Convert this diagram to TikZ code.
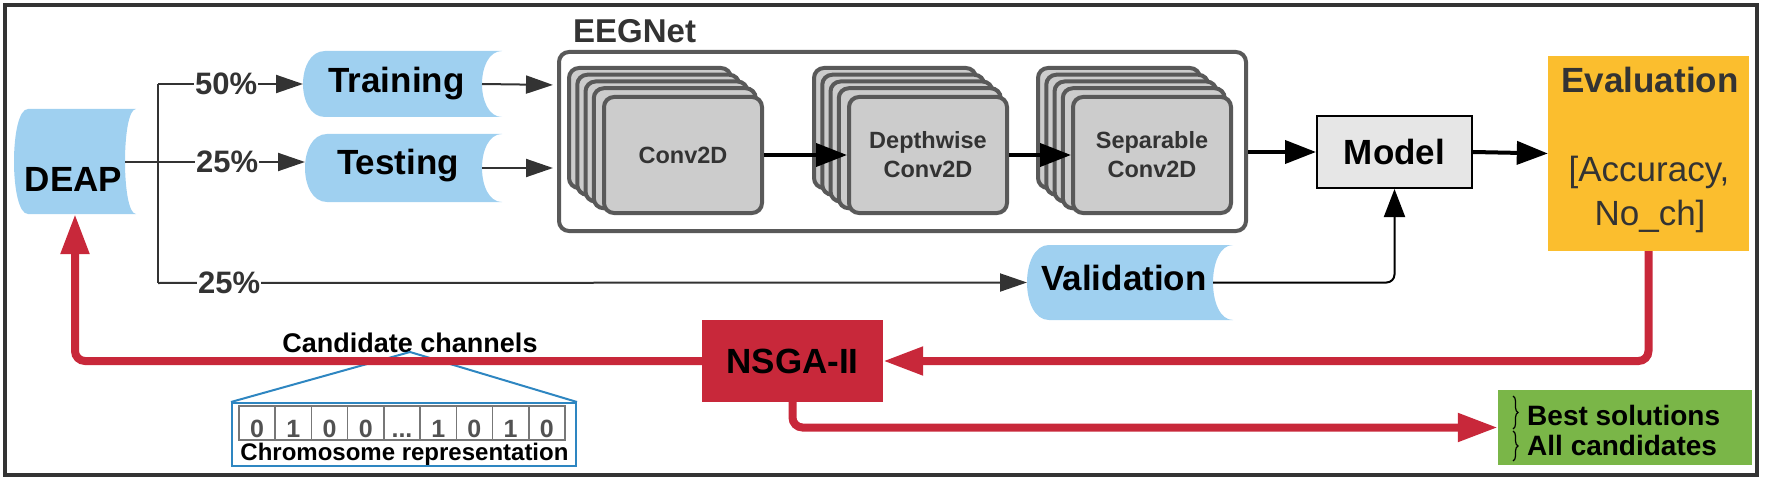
\documentclass[tikz,border=0pt]{standalone}
\usepackage{fontspec}
\setmainfont{Liberation Sans}
\usetikzlibrary{arrows.meta,calc,decorations.pathreplacing}
\definecolor{sdblue}{HTML}{9FD0F0}
\definecolor{darktext}{HTML}{333333}
\definecolor{stackfill}{HTML}{CCCCCC}
\definecolor{stackdraw}{HTML}{595959}
\definecolor{modelfill}{HTML}{E6E6E6}
\definecolor{evalfill}{HTML}{FBBE2E}
\definecolor{nsgared}{HTML}{C8283A}
\definecolor{greenfill}{HTML}{7AB648}
\definecolor{chromblue}{HTML}{2E86C1}
\definecolor{cellgray}{HTML}{777777}
\newcommand\chromdots{...}
\newcommand\sdshape[6]{%
  \fill[sdblue] ({#1-#3/2+#5},{#2-#4/2}) -- ({#1+#3/2},{#2-#4/2})
    .. controls +({-#6*4/3},0) and +({-#6*4/3},0) .. ({#1+#3/2},{#2+#4/2})
    -- ({#1-#3/2+#5},{#2+#4/2})
    .. controls +({-#5*4/3},0) and +({-#5*4/3},0) .. ({#1-#3/2+#5},{#2-#4/2}) -- cycle;}
\newcommand\convstack[3]{%
  \foreach \k in {4,3,2,1} {
    \draw[stacklayer] ({#1-8.25*\k},{95-6.75*\k}) rectangle ({#1+162-8.25*\k},{215-6.75*\k});
  }
  \node[stackfront] (#2) at ({#1+81},155) {#3};}
\begin{document}
\begin{tikzpicture}[x=1pt,y=-1pt,
  sdnode/.style={inner sep=0pt, outer sep=0pt},
  bigtext/.style={font=\fontsize{35pt}{42pt}\selectfont\bfseries, text=black, inner sep=0pt},
  pct/.style={font=\fontsize{31pt}{36pt}\selectfont\bfseries, text=darktext, fill=white, inner sep=1pt},
  thinline/.style={draw=darktext, line width=2pt},
  thinarrow/.style={draw=darktext, line width=2pt, -{Triangle[length=27pt,width=18pt]}},
  thickarrow/.style={draw=black, line width=4pt, -{Triangle[length=31pt,width=23pt]}},
  redarrow/.style={draw=nsgared, line width=8pt, rounded corners=10pt, -{Triangle[length=40pt,width=27pt]}},
  stacklayer/.style={draw=stackdraw, fill=stackfill, line width=4pt, rounded corners=10pt},
  stackfront/.style={draw=stackdraw, fill=stackfill, line width=4pt, rounded corners=10pt,
    minimum width=158pt, minimum height=116pt, inner sep=0pt, align=center,
    font=\fontsize{23.5pt}{29pt}\selectfont\bfseries, text=darktext},
  cell/.style={draw=cellgray, line width=1.5pt, minimum width=36.2pt, minimum height=34pt, inner sep=0pt},
  digit/.style={font=\fontsize{25pt}{28pt}\selectfont\bfseries, text=darktext!85!white, inner sep=0pt},
  bracestyle/.style={draw=black, line width=1.2pt, decorate, decoration={brace, amplitude=5pt}}
]
\useasboundingbox (0,0) rectangle (1765,484);
\draw[line width=4pt, draw=darktext] (5,5) rectangle (1757,475);

% stored data shapes
\sdshape{75}{161.5}{122}{105}{14}{11}
\sdshape{402.5}{84}{199}{66}{22}{20}
\sdshape{403.5}{168}{197}{68}{22}{20}
\sdshape{1130}{282.5}{206}{75}{22}{20}
\node[sdnode, minimum width=122pt, minimum height=105pt] (deap) at (75,161.5) {};
\node[sdnode, minimum width=199pt, minimum height=66pt] (train) at (402.5,84) {};
\node[sdnode, minimum width=197pt, minimum height=68pt] (test) at (403.5,168) {};
\node[sdnode, minimum width=206pt, minimum height=75pt] (val) at (1130,282.5) {};
\node[bigtext, anchor=base] (deaplbl) at (73.5,192) {DEAP};
\node[bigtext, anchor=base] (trainlbl) at (396.5,93) {Training};
\node[bigtext, anchor=base] (testlbl) at (398,175) {Testing};
\node[bigtext, anchor=base] (vallbl) at (1124,290) {Validation};

% EEGNet box
\node[draw=stackdraw, line width=4pt, rounded corners=10pt, minimum width=687pt, minimum height=179pt, inner sep=0pt] (eeg) at (902.5,141.5) {};
\node[font=\fontsize{33pt}{38pt}\selectfont\bfseries, text=darktext, anchor=base west, inner sep=0pt] (eeglbl) at (573,43) {EEGNet};
\convstack{602}{conv}{Conv2D}
\convstack{847}{depth}{Depthwise\\Conv2D}
\convstack{1071}{sep}{Separable\\Conv2D}

% model / evaluation / nsga / results
\node[draw=black, fill=modelfill, line width=2pt, minimum width=155pt, minimum height=72pt, inner sep=0pt, font=\fontsize{35pt}{42pt}\selectfont\bfseries] (model) at (1394.5,152) {Model};
\node[fill=evalfill, minimum width=201pt, minimum height=195pt, inner sep=0pt] (eval) at (1648.5,153.5) {};
\node[font=\fontsize{35pt}{42pt}\selectfont\bfseries, text=darktext, anchor=base, inner sep=0pt] (evallbl) at (1650,93) {Evaluation};
\node[font=\fontsize{35pt}{42pt}\selectfont, text=darktext, anchor=base, inner sep=0pt] (acclbl) at (1649,182) {[Accuracy,};
\node[font=\fontsize{35pt}{42pt}\selectfont, text=darktext, anchor=base, inner sep=0pt] (nochlbl) at (1650,225) {No\_ch]};
\node[fill=nsgared, minimum width=181pt, minimum height=82pt, inner sep=0pt, font=\fontsize{35pt}{42pt}\selectfont\bfseries] (nsga) at (792.5,361) {NSGA-II};
\node[fill=greenfill, minimum width=254pt, minimum height=75pt, inner sep=0pt] (green) at (1625,427.5) {};
\node[font=\fontsize{28pt}{32pt}\selectfont\bfseries, anchor=base west, inner sep=0pt] (bestlbl) at (1527,425) {Best solutions};
\node[font=\fontsize{28pt}{32pt}\selectfont\bfseries, anchor=base west, inner sep=0pt] (alllbl) at (1527,455) {All candidates};
\draw[bracestyle] (1513,396) -- (1513,429);
\draw[bracestyle] (1513,431) -- (1513,461);

% chromosome
\node[font=\fontsize{27pt}{32pt}\selectfont\bfseries, anchor=base, inner sep=0pt] (candlbl) at (410,352) {Candidate channels};
\coordinate (apex) at (410,352);
\node[draw=chromblue, line width=2pt, minimum width=344pt, minimum height=63pt, inner sep=0pt] (chrom) at (404,434.5) {};
\draw[draw=chromblue, line width=2pt] (chrom.north west) -- (apex) -- (chrom.north east);
\foreach \i/\d in {1/0,2/1,3/0,4/0,5/\chromdots,6/1,7/0,8/1,9/0} {
  \node[cell] (c\i) at ({239+36.22*(\i-0.5)},423) {};
  \node[digit, anchor=base] at ({239+36.22*(\i-0.5)},437) {\d};
}
\node[font=\fontsize{24pt}{28pt}\selectfont\bfseries, anchor=base, inner sep=0pt] (chromlbl) at (404.5,460) {Chromosome representation};

% split connectors
\coordinate (b1) at (158,84);
\coordinate (b2) at (158,162);
\coordinate (b3) at (158,283);
\draw[thinline] (b1) -- (b3);
\draw[thinarrow] (b1) -- node[pct, pos=0.47] {50\%} (train.west);
\draw[thinarrow] ([xshift=-11pt]deap.east |- b2) -- node[pct, pos=0.567] {25\%} (b2 -| test.west);
\draw[thinarrow] (b3) -- node[pct, pos=0.082] {25\%} (val.west);
\draw[thinarrow, shorten >=4pt] ([xshift=-20pt]train.east) -- ([yshift=-1pt]train.east -| eeg.west);
\draw[thinarrow, shorten >=4pt] ([xshift=-20pt]test.east) -- (test.east -| eeg.west);

% network flow
\draw[thickarrow] (conv.east) -- (depth.west);
\draw[thickarrow] (depth.east) -- (sep.west);
\draw[thickarrow] (eeg.east |- model.west) -- (model.west);
\draw[thickarrow] (model.east) -- (eval.west);
\draw[draw=black, line width=2pt, rounded corners=8pt, -{Triangle[length=28pt,width=21pt]}] ([xshift=-20pt]val.east) -| (model.south);

% red loop
\draw[redarrow] (eval.south) |- (nsga.east);
\draw[redarrow] (nsga.west) -| (deap.south);
\draw[redarrow] (nsga.south) |- (green.west);
\end{tikzpicture}
\end{document}
